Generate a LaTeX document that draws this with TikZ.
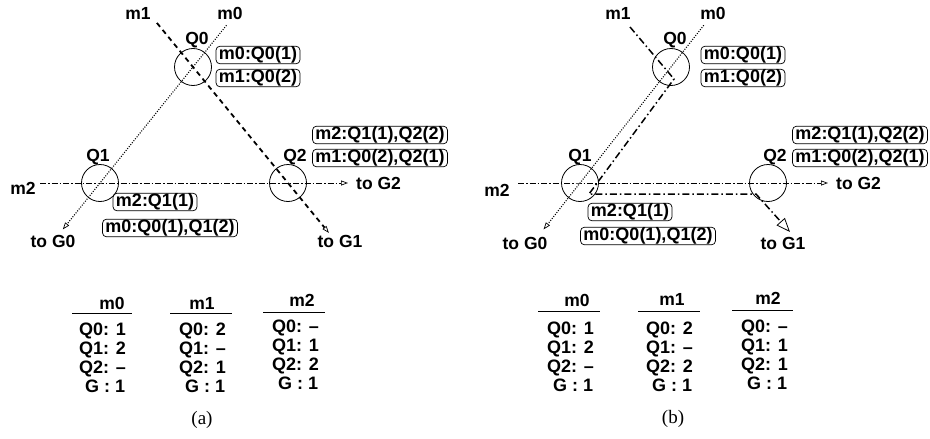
\documentclass[tikz,border=0pt]{standalone}
\usepackage{fontspec}
\setmainfont{Liberation Serif}
\setsansfont{Liberation Sans}
\usetikzlibrary{arrows.meta,calc}
\begin{document}
\begin{tikzpicture}[x=1pt,y=-1pt,
  lab/.style={font=\sffamily\bfseries\fontsize{17.5}{19}\selectfont, inner sep=0pt, text height=12.6pt, text depth=0pt},
  tag/.style={draw, rounded corners=4pt, line width=0.7pt, inner xsep=3pt, inner ysep=0.5pt, text height=13pt, text depth=3.6pt, font=\sffamily\bfseries\fontsize{18}{20}\selectfont},
  row/.style={font=\sffamily\bfseries\fontsize{18}{20}\selectfont, anchor=west, inner sep=0pt, text height=12.9pt, text depth=0pt},
  ring/.style={draw, circle, minimum size=37pt, inner sep=0pt, line width=0.8pt},
  dotline/.style={line width=1.1pt, dash pattern=on 1pt off 1.5pt},
  dashline/.style={line width=1.8pt, dash pattern=on 5pt off 4pt},
  dashdotline/.style={line width=1pt, dash pattern=on 6pt off 2pt on 1.5pt off 2pt},
  longdashdot/.style={line width=1.5pt, dash pattern=on 7pt off 3pt on 1.5pt off 3pt},
  tip/.style={-{Triangle[open,length=7pt,width=5pt,line width=0.7pt]}},
  bigtip/.style={-{Triangle[open,length=14pt,width=11pt,line width=0.8pt]}},
  rule/.style={line width=0.9pt},
  captext/.style={font=\rmfamily\fontsize{19}{21}\selectfont, inner sep=0pt}
]
\useasboundingbox (0,0) rectangle (930,439);

% ---------------- panel (a) ----------------
\node[ring] (q0a) at (193,67) {};
\node[ring] (q1a) at (100,183) {};
\node[ring] (q2a) at (288,183) {};
\coordinate (m0sa) at ($(q0a)!-0.36!(q1a)$);
\coordinate (m0ea) at ($(q0a)!1.4!(q1a)$);
\coordinate (m1sa) at ($(q0a)!-0.38!(q2a)$);
\coordinate (m1ea) at ($(q0a)!1.43!(q2a)$);
\coordinate (m2sa) at (40,183);
\coordinate (m2ea) at (348,183);
\draw[dotline,tip] (m0sa) -- (m0ea);
\draw[dashline,tip] (m1sa) -- (m1ea);
\draw[dashdotline,tip] (m2sa) -- (q1a.center) -- (q2a.center) -- (m2ea);

\node[lab] (lm1a) at (138,13) {m1};
\node[lab] (lm0a) at (230,13) {m0};
\node[lab] (lq0a) at (197,38) {Q0};
\node[lab] (lq1a) at (98,155) {Q1};
\node[lab] (lq2a) at (295,155) {Q2};
\node[lab] (lm2a) at (23,188) {m2};
\node[lab] (g0a) at (53,241) {to G0};
\node[lab] (g1a) at (340,241) {to G1};
\node[lab,anchor=west] (g2a) at (356,183) {to G2};

\node[tag] (t1a) at (258,55) {m0:Q0(1)};
\node[tag] (t2a) at (258,78) {m1:Q0(2)};
\node[tag] (t3a) at (380,135) {m2:Q1(1),Q2(2)};
\node[tag] (t4a) at (380,158) {m1:Q0(2),Q2(1)};
\node[tag] (t5a) at (155,202) {m2:Q1(1)};
\node[tag] (t6a) at (170,228) {m0:Q0(1),Q1(2)};

% ---------------- panel (b) ----------------
\node[ring] (q0b) at (671,67) {};
\node[ring] (q1b) at (580,183) {};
\node[ring] (q2b) at (768,183) {};
\coordinate (m0sb) at ($(q0b)!-0.36!(q1b)$);
\coordinate (m0eb) at ($(q0b)!1.4!(q1b)$);
\coordinate (m1sb) at (630,27);
\coordinate (c1b) at (674,79);
\coordinate (c2b) at (589,194);
\coordinate (c3b) at (756,194);
\coordinate (m1eb) at (790,232);
\coordinate (m2sb) at (518,183);
\coordinate (m2eb) at (828,183);
\draw[dotline,tip] (m0sb) -- (m0eb);
\draw[longdashdot,bigtip] (m1sb) -- (c1b) -- (c2b) -- (c3b) -- (m1eb);
\draw[dashdotline,tip] (m2sb) -- (q1b.center) -- (q2b.center) -- (m2eb);

\node[lab] (lm1b) at (618,13) {m1};
\node[lab] (lm0b) at (713,13) {m0};
\node[lab] (lq0b) at (675,38) {Q0};
\node[lab] (lq1b) at (580,155) {Q1};
\node[lab] (lq2b) at (775,155) {Q2};
\node[lab] (lm2b) at (497,190) {m2};
\node[lab] (g0b) at (525,243) {to G0};
\node[lab] (g1b) at (783,243) {to G1};
\node[lab,anchor=west] (g2b) at (836,183) {to G2};

\node[tag] (t1b) at (743,55) {m0:Q0(1)};
\node[tag] (t2b) at (743,78) {m1:Q0(2)};
\node[tag] (t3b) at (860,135) {m2:Q1(1),Q2(2)};
\node[tag] (t4b) at (860,158) {m1:Q0(2),Q2(1)};
\node[tag] (t5b) at (630,212) {m2:Q1(1)};
\node[tag] (t6b) at (648,236) {m0:Q0(1),Q1(2)};

% ---------------- tables ----------------
\foreach \id/\hx/\hy/\la/\lb/\ly/\x/\y/\ra/\rb/\rc/\nm in {
  a0/112/303/72/132/313/79/329/1/2/{\textendash}/m0,
  a1/202/303/170/232/313/179/329/2/{\textendash}/1/m1,
  a2/302/300/263/325/312/272/326/{\textendash}/1/2/m2,
  b0/577/300/538/600/311/547/328/1/2/{\textendash}/m0,
  b1/672/299/638/700/311/646/328/2/{\textendash}/2/m1,
  b2/768/298/732/793/310/741/326/{\textendash}/1/1/m2}{
  \node[lab] (\id-h) at (\hx,\hy) {\nm};
  \draw[rule] (\la,\ly) -- (\lb,\ly);
  \node[row] (\id-0) at (\x,\y) {Q0: \ra};
  \node[row] (\id-1) at (\x,\y+19) {Q1: \rb};
  \node[row] (\id-2) at (\x,\y+38) {Q2: \rc};
  \node[row] (\id-3) at (\x+6,\y+57) {G : 1};
}
\node[captext] (capa) at (202,420) {(a)};
\node[captext] (capb) at (673,419) {(b)};
\end{tikzpicture}
\end{document}
